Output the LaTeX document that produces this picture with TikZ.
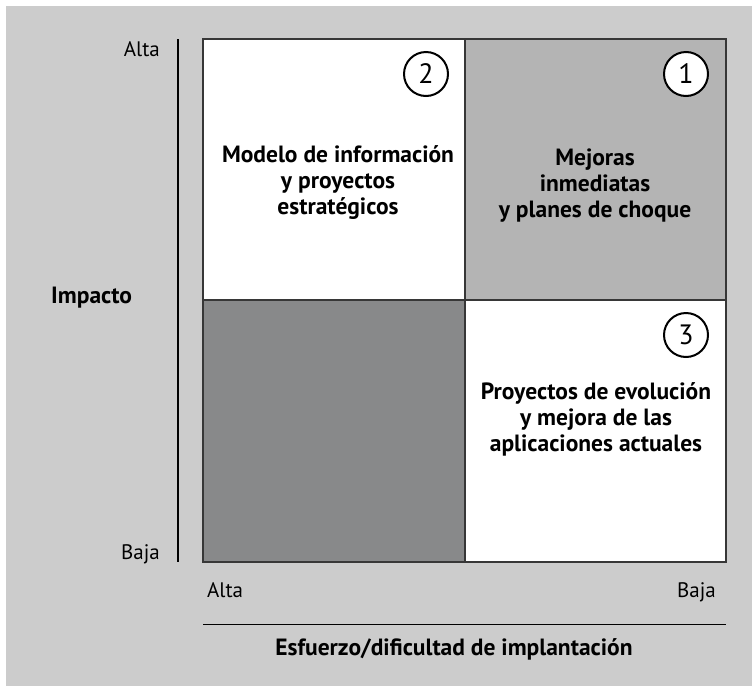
\documentclass[tikz,border=0pt]{standalone}
\usepackage{fontspec}
\setmainfont{PT Sans}
\definecolor{bggray}{RGB}{204,204,204}
\definecolor{qone}{RGB}{180,180,180}
\definecolor{qdark}{RGB}{136,137,138}
\definecolor{edge}{RGB}{55,55,55}
\tikzset{
  quad/.style={draw=edge, line width=2pt},
  qtext/.style={align=center, font=\bfseries\fontsize{23.5}{26}\selectfont, inner sep=0pt},
  numcirc/.style={circle, draw=black, line width=2pt, fill=white, minimum size=44pt, inner sep=0pt, font=\fontsize{28}{30}\selectfont},
  axlabel/.style={font=\fontsize{21}{24}\selectfont, inner sep=0pt},
  axtitle/.style={font=\bfseries\fontsize{23.5}{26}\selectfont, inner sep=0pt},
  axline/.style={line width=1.5pt, draw=black}
}
\begin{document}
\begin{tikzpicture}[x=1pt,y=-1pt]
\useasboundingbox (0,0) rectangle (752,686);
\fill[bggray] (6,6) rectangle (752,686);
% quadrants
\fill[white] (203,39) rectangle (465,300);
\fill[qone] (465,39) rectangle (726,300);
\fill[qdark] (203,300) rectangle (465,562);
\fill[white] (465,300) rectangle (726,562);
\draw[quad] (203,39) rectangle (726,562);
\draw[quad] (465,39) -- (465,562);
\draw[quad] (203,300) -- (726,300);
% circles
\node[numcirc] (c2) at (426,74) {2};
\node[numcirc] (c1) at (686,74) {1};
\node[numcirc] (c3) at (686,335) {3};
% quadrant texts
\node[qtext] (t2) at (338,183) {Modelo de información\\y proyectos\\estratégicos};
\node[qtext] (t1) at (595,186) {Mejoras\\inmediatas\\y planes de choque};
\node[qtext] (t3) at (596,419) {Proyectos de evolución\\y mejora de las\\aplicaciones actuales};
% vertical axis
\coordinate (vtop) at (178,39);
\coordinate (vbot) at (178,562);
\draw[axline] (vtop) -- (vbot);
\node[axlabel, anchor=base east] (valta) at (160,56) {Alta};
\node[axlabel, anchor=base east] (vbaja) at (160,559) {Baja};
\node[axtitle, anchor=base west] (imp) at (51,303) {Impacto};
% horizontal axis
\coordinate (hleft) at (203,624.5);
\coordinate (hright) at (726,624.5);
\draw[axline] (hleft) -- (hright);
\node[axlabel, anchor=base west] (halta) at (207,597) {Alta};
\node[axlabel, anchor=base east] (hbaja) at (716,597) {Baja};
\node[axtitle, anchor=base] (esf) at (454,655) {Esfuerzo/dificultad de implantación};
\end{tikzpicture}
\end{document}
